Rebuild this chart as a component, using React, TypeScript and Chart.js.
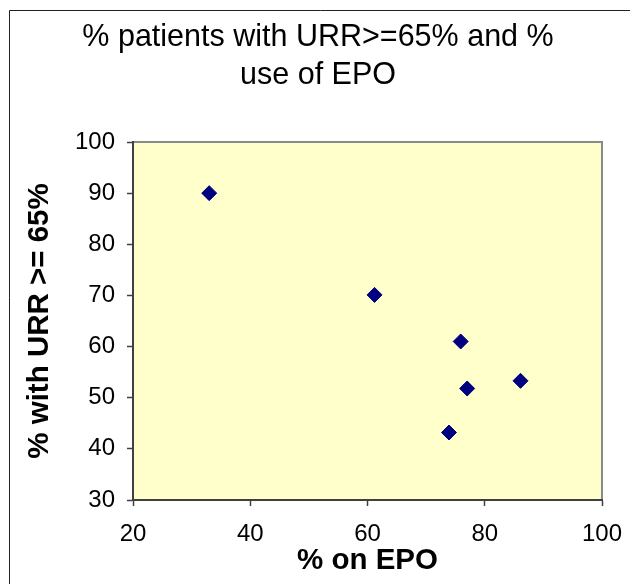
import { useEffect, useRef } from "react";
import { Chart, registerables } from "chart.js";

Chart.register(...registerables);

// Per-unit data: share of patients on EPO vs share reaching URR >= 65%
const epoPercent = [33, 61.2, 75.9, 77, 86.1, 73.9];
const urrPercent = [90, 70.1, 61, 51.8, 53.3, 43.2];

const titleLines = ["% patients with URR>=65% and %", "use of EPO"];
const xAxisTitle = "% on EPO";
const yAxisTitle = "% with URR >= 65%";

const xMin = 20;
const xMax = 100;
const xStep = 20;
const yMin = 30;
const yMax = 100;
const yStep = 10;

const FONT = "'Liberation Sans', Arial, Helvetica, sans-serif";
const AXIS_DARK = "#404040";

// Frame around the whole chart, plot-area fill and the title lines
const chromePlugin = {
  id: "chrome",
  beforeDraw(chart: any) {
    const { ctx, chartArea } = chart;
    ctx.save();
    // outer frame
    ctx.strokeStyle = "#222222";
    ctx.lineWidth = 1;
    ctx.beginPath();
    ctx.moveTo(9.5, chart.height + 2);
    ctx.lineTo(9.5, 10.5);
    ctx.lineTo(chart.width + 2, 10.5);
    ctx.stroke();
    // plot area
    const { left, top, right, bottom } = chartArea;
    ctx.fillStyle = "#FFFFCC";
    ctx.fillRect(left, top, right - left, bottom - top);
    ctx.strokeStyle = "#8a8a8a";
    ctx.lineWidth = 2;
    ctx.strokeRect(left, top, right - left, bottom - top);
    // title
    ctx.fillStyle = "#000000";
    ctx.font = `30.5px ${FONT}`;
    ctx.textAlign = "center";
    ctx.textBaseline = "middle";
    titleLines.forEach((line, i) => {
      ctx.fillText(line, 318, 38 + i * 38);
    });
    ctx.restore();
  },
};

export default function App() {
  const canvasRef = useRef<HTMLCanvasElement | null>(null);

  useEffect(() => {
    const canvas = canvasRef.current;
    if (!canvas) return;
    const points = epoPercent.map((x, i) => ({ x, y: urrPercent[i] }));
    const chart = new Chart(canvas, {
      type: "scatter",
      data: {
        datasets: [
          {
            label: "Units",
            data: points,
            pointStyle: "rectRot",
            pointRadius: 7.5,
            pointHoverRadius: 7.5,
            pointBackgroundColor: "#000080",
            pointBorderColor: "#000080",
            pointBorderWidth: 1,
          },
        ],
      },
      options: {
        responsive: false,
        animation: false,
        events: [],
        layout: { padding: { top: 142, right: 28, bottom: 0, left: 0 } },
        plugins: {
          legend: { display: false },
          title: { display: false },
          tooltip: { enabled: false },
        },
        scales: {
          x: {
            type: "linear",
            min: xMin,
            max: xMax,
            afterFit(scale: any) {
              scale.height = 84;
              scale.paddingLeft = 0;
              scale.paddingRight = 0;
            },
            ticks: {
              stepSize: xStep,
              padding: 14,
              color: "#000000",
              font: { family: FONT, size: 24 },
            },
            grid: {
              display: true,
              drawOnChartArea: false,
              drawTicks: true,
              tickLength: 6,
              tickColor: AXIS_DARK,
              tickWidth: 1.5,
            },
            border: { display: true, color: AXIS_DARK, width: 2 },
            title: {
              display: true,
              text: xAxisTitle,
              color: "#000000",
              font: { family: FONT, size: 29.5, weight: "bold" },
              padding: { top: 0, bottom: 5 },
            },
          },
          y: {
            type: "linear",
            min: yMin,
            max: yMax,
            afterFit(scale: any) {
              scale.width = 133;
            },
            ticks: {
              stepSize: yStep,
              padding: 12,
              color: "#000000",
              font: { family: FONT, size: 24 },
            },
            grid: {
              display: true,
              drawOnChartArea: false,
              drawTicks: true,
              tickLength: 6,
              tickColor: AXIS_DARK,
              tickWidth: 1.5,
            },
            border: { display: true, color: AXIS_DARK, width: 2 },
            title: {
              display: true,
              text: yAxisTitle,
              color: "#000000",
              font: { family: FONT, size: 29.5, weight: "bold" },
              padding: { top: 22, bottom: 0 },
            },
          },
        },
      },
      plugins: [chromePlugin],
    });
    return () => chart.destroy();
  }, []);

  return (
    <div
      style={{
        position: "absolute",
        left: 0,
        top: 0,
        width: 630,
        height: 584,
        overflow: "hidden",
        background: "#ffffff",
      }}
    >
      <canvas ref={canvasRef} width={630} height={584} />
    </div>
  );
}
